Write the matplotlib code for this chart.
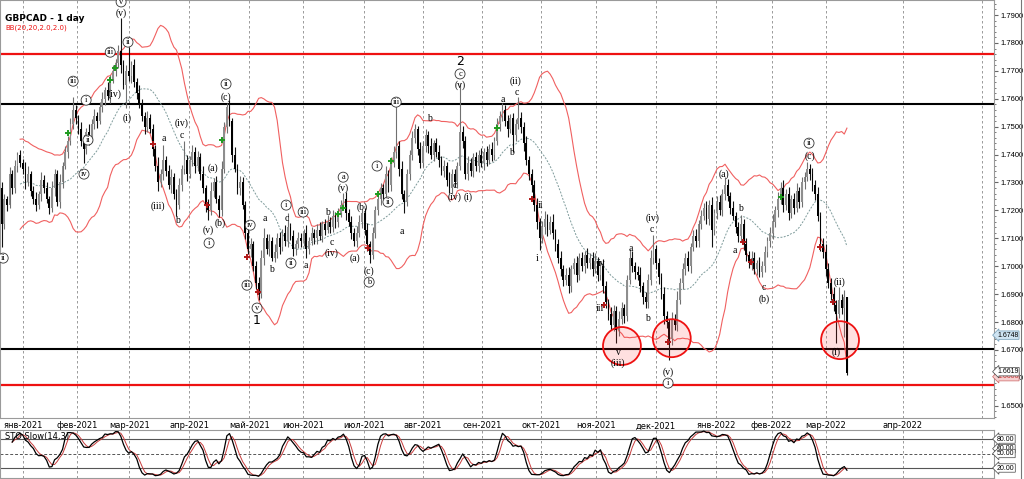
import numpy as np
import pandas as pd
import matplotlib
matplotlib.use("Agg")
import matplotlib.pyplot as plt
from matplotlib.patches import Ellipse

# GBPCAD daily, bar 0 = 4 Jan 2021, bars before it are late Dec 2020
first_bar = -8
first_open = 1.728
closes = [
    1.715, 1.724, 1.722, 1.733, 1.728, 1.736, 1.740, 1.737,
    1.735, 1.730, 1.733, 1.727, 1.724, 1.722, 1.726, 1.731, 1.728, 1.724,
    1.721, 1.728, 1.733, 1.723, 1.730, 1.736, 1.741, 1.745, 1.751, 1.756,
    1.753, 1.749, 1.745, 1.742, 1.748, 1.746, 1.751, 1.754, 1.752, 1.757,
    1.760, 1.763, 1.761, 1.767, 1.770, 1.773, 1.777, 1.772, 1.765, 1.770,
    1.768, 1.772, 1.766, 1.762, 1.758, 1.754, 1.750, 1.753, 1.749, 1.742,
    1.736, 1.730, 1.733, 1.738, 1.734, 1.729, 1.732, 1.726, 1.722, 1.729,
    1.735, 1.738, 1.733,
    1.738, 1.741, 1.736, 1.739, 1.733, 1.728, 1.722, 1.720, 1.727, 1.730,
    1.724, 1.720, 1.735, 1.750, 1.757, 1.752, 1.740, 1.735, 1.728, 1.730, 1.722,
    1.712, 1.706, 1.708, 1.700, 1.694, 1.690, 1.703, 1.710, 1.706, 1.709,
    1.703, 1.705, 1.710, 1.707, 1.712, 1.709, 1.714, 1.711, 1.706, 1.708, 1.710,
    1.709, 1.712, 1.706, 1.709, 1.712, 1.710, 1.713, 1.711, 1.715, 1.713,
    1.716, 1.714, 1.718, 1.716, 1.719, 1.722, 1.724, 1.719, 1.716, 1.712,
    1.709, 1.712,
    1.716, 1.719, 1.713, 1.708, 1.704, 1.712, 1.720, 1.724, 1.728, 1.726,
    1.733, 1.729, 1.737, 1.741, 1.743, 1.735, 1.726, 1.723, 1.733, 1.740,
    1.746, 1.749,
    1.742, 1.737, 1.743, 1.747, 1.743, 1.740, 1.744, 1.741, 1.738, 1.734,
    1.736, 1.731, 1.728, 1.733, 1.730, 1.736, 1.748, 1.745, 1.733, 1.737,
    1.734, 1.739,
    1.736, 1.740, 1.737, 1.741, 1.738, 1.742, 1.740, 1.745, 1.751, 1.754,
    1.756, 1.752, 1.749, 1.753, 1.747, 1.751, 1.753, 1.750, 1.744, 1.738,
    1.733, 1.729,
    1.722, 1.716, 1.710, 1.714, 1.717, 1.713, 1.716, 1.712, 1.708, 1.703,
    1.699, 1.695, 1.697, 1.693, 1.699, 1.701, 1.697, 1.703, 1.700, 1.704, 1.701,
    1.703, 1.699, 1.702, 1.697, 1.700, 1.693, 1.687, 1.683, 1.679, 1.684,
    1.677, 1.681, 1.685, 1.682, 1.695, 1.703, 1.700, 1.698, 1.697, 1.693,
    1.689, 1.687,
    1.695, 1.703, 1.706, 1.701, 1.696, 1.690, 1.682, 1.680, 1.674, 1.681,
    1.679, 1.688, 1.694, 1.699, 1.703, 1.700, 1.707, 1.711, 1.709, 1.715,
    1.718, 1.721,
    1.717, 1.722, 1.713, 1.719, 1.723, 1.720, 1.726, 1.729, 1.725, 1.721,
    1.718, 1.714, 1.711, 1.715, 1.708, 1.704, 1.701, 1.703, 1.699, 1.701, 1.698,
    1.700, 1.705, 1.709, 1.712, 1.716, 1.720, 1.724, 1.728, 1.722, 1.726,
    1.719, 1.724, 1.721, 1.727, 1.723, 1.730, 1.732, 1.735, 1.733, 1.729,
    1.726, 1.718, 1.708, 1.705, 1.699, 1.694, 1.690, 1.686, 1.683, 1.688,
    1.685, 1.689, 1.6619,
]
# wicks in pips above / below the candle body
wick_up = [
    20, 18, 12, 25, 15, 22, 10, 18,
    14, 22, 30, 12, 18, 25, 10, 28, 16, 20, 12, 26, 18, 14, 30, 12, 20, 15, 22, 46,
    18, 12, 25, 20, 14, 28, 16, 22, 12, 18, 25, 14, 30, 16, 20, 12, 24, 120, 18, 22,
    85, 16, 22, 14, 28, 18, 12, 25, 16, 20, 14, 30, 18, 54, 16, 22, 28, 14, 18, 25, 12, 70, 20,
    16, 25, 18, 22, 14, 28, 12, 20, 30, 16, 22, 14, 26, 18, 15, 25, 12, 28, 16, 22, 18,
    14, 25, 20, 12, 18, 22, 28, 37, 16, 24, 14, 30, 18, 22, 12, 26, 50, 16, 20, 14, 24,
    18, 12, 26, 16, 22, 14, 20, 28, 12, 18, 24, 16, 22, 14, 20, 18, 22, 26, 14, 20, 16, 24,
    22, 14, 18, 26, 12, 20, 16, 24, 18, 14, 28, 16, 20, 22, 158, 18, 26, 14, 20, 16, 24, 18,
    14, 26, 18, 22, 16, 28, 12, 20, 24, 16, 22, 14, 26, 18, 20, 12, 176, 22, 16, 24, 18, 14,
    20, 16, 24, 14, 22, 18, 26, 12, 20, 16, 25, 18, 22, 14, 20, 16, 76, 22, 18, 26, 14, 20,
    18, 24, 14, 22, 28, 16, 20, 26, 14, 18, 24, 16, 22, 28, 14, 20, 26, 18, 22, 16, 24,
    16, 22, 28, 14, 20, 26, 18, 12, 24, 20, 16, 28, 22, 14, 18, 30, 24, 16, 20, 26, 14, 18,
    22, 28, 51, 16, 20, 14, 24, 18, 12, 26, 20, 30, 16, 22, 18, 26, 14, 20, 24, 16, 22, 18,
    24, 16, 28, 14, 20, 26, 18, 29, 22, 16, 24, 14, 20, 33, 18, 22, 16, 24, 20, 14, 22,
    18, 24, 16, 22, 28, 14, 26, 20, 30, 18, 24, 16, 22, 28, 14, 20, 18, 23, 16, 22,
    18, 24, 16, 22, 28, 20, 16, 24, 18, 45, 20, 25, 0,
]
wick_dn = [
    80, 15, 22, 12, 20, 16, 24, 14,
    18, 24, 12, 20, 16, 22, 14, 26, 18, 12, 22, 16, 28, 14, 20, 18, 12, 24, 16, 20,
    22, 16, 20, 50, 18, 24, 14, 20, 26, 12, 18, 22, 16, 24, 14, 20, 18, 26, 14, 83,
    18, 24, 16, 22, 14, 20, 26, 18, 12, 24, 20, 30, 16, 22, 18, 14, 26, 20, 40, 16, 22, 18, 24,
    14, 20, 26, 18, 22, 16, 24, 35, 18, 22, 14, 24, 20, 16, 22, 18, 26, 14, 20, 24, 16,
    22, 18, 26, 16, 20, 21, 14, 24, 18, 22, 10, 16, 20, 26, 14, 18, 22, 16, 24, 20, 14,
    20, 16, 31, 18, 14, 22, 20, 16, 24, 18, 12, 20, 16, 22, 18, 14, 20, 24, 16, 22, 18, 20,
    16, 22, 18, 24, 29, 14, 20, 16, 22, 18, 14, 24, 20, 16, 22, 26, 18, 40, 16, 22, 18, 20,
    22, 18, 14, 20, 24, 16, 22, 18, 26, 14, 20, 24, 18, 22, 16, 20, 14, 26, 18, 22, 16, 20,
    18, 22, 16, 24, 20, 14, 22, 18, 16, 24, 20, 18, 26, 14, 61, 20, 18, 22, 26, 16, 20, 24,
    22, 26, 42, 18, 24, 20, 16, 22, 26, 18, 24, 20, 16, 25, 22, 18, 26, 20, 16, 24, 18,
    20, 24, 16, 22, 18, 26, 20, 24, 18, 22, 45, 20, 16, 24, 18, 14, 20, 26, 18, 22, 24, 20,
    18, 16, 22, 20, 24, 18, 26, 20, 77, 22, 18, 24, 16, 20, 22, 18, 24, 16, 20, 22, 18, 16,
    20, 24, 62, 18, 22, 16, 20, 24, 18, 22, 16, 20, 24, 18, 22, 20, 16, 24, 18, 22, 20,
    19, 22, 16, 20, 24, 18, 22, 16, 24, 20, 26, 18, 22, 16, 20, 18, 24, 16, 22, 20,
    22, 18, 24, 20, 26, 18, 22, 20, 105, 16, 22, 104, 9,
]

month_labels = ["янв-2021", "фев-2021", "мар-2021", "апр-2021", "май-2021",
                "июн-2021", "июл-2021", "авг-2021", "сен-2021", "окт-2021",
                "ноя-2021", "дек-2021", "янв-2022", "фев-2022", "мар-2022",
                "апр-2022", ""]
month_pos = [0, 20.4, 40.2, 62.9, 85.5, 105.7, 128.9, 150.9, 173.2, 195.5,
             216.3, 238.9, 261.6, 282.6, 303.1, 332.1, 362.1]

red_levels = [1.7760, 1.6575]
black_levels = [1.7580, 1.6705]

# elliott wave marks: (bar, price, text)
waves_circled = [
    (37.1, 1.7947, "v"), (33.0, 1.7767, "iii"), (39.7, 1.7803, "ii"),
    (19.0, 1.7663, "iii"), (23.9, 1.7595, "i"), (24.6, 1.7452, "ii"),
    (23.1, 1.7330, "iv"), (70.3, 1.7083, "i"), (76.7, 1.7653, "ii"),
    (-7.4, 1.7029, "ii"), (85.8, 1.7147, "iv"), (84.6, 1.6932, "iii"),
    (88.4, 1.6850, "v"), (99.4, 1.7219, "i"), (101.2, 1.7011, "ii"),
    (105.8, 1.7194, "iii"), (120.9, 1.7319, "a"), (130.7, 1.6943, "b"),
    (133.7, 1.7359, "i"), (137.8, 1.7230, "ii"), (140.9, 1.7588, "iii"),
    (165.0, 1.7689, "c"), (243.5, 1.6581, "i"), (296.7, 1.7441, "ii"),
]
waves_plain = [
    (37.1, 1.7907, "(v)"), (34.8, 1.7617, "(iv)"), (39.4, 1.7531, "(i)"),
    (51.1, 1.7215, "(iii)"), (53.3, 1.7456, "a"), (58.2, 1.7162, "b"),
    (60.1, 1.7470, "c"), (60.1, 1.7513, "(iv)"), (71.8, 1.7352, "(a)"),
    (69.9, 1.7129, "(v)"), (74.5, 1.7155, "(b)"), (76.7, 1.7606, "(c)"),
    (91.4, 1.7172, "a"), (93.7, 1.6989, "b"), (99.7, 1.7172, "c"),
    (106.9, 1.7003, "a"), (114.8, 1.7194, "b"), (116.7, 1.7086, "c"),
    (116.7, 1.7047, "(iv)"), (120.9, 1.7280, "(v)"), (125.4, 1.7029, "(a)"),
    (128.0, 1.7212, "(b)"), (130.7, 1.6982, "(c)"), (143.1, 1.7126, "a"),
    (153.3, 1.7531, "b"), (163.1, 1.7291, "c"), (163.1, 1.7248, "(iv)"),
    (168.0, 1.7248, "(i)"), (165.0, 1.7649, "(v)"), (181.2, 1.7599, "a"),
    (186.1, 1.7663, "(ii)"), (186.5, 1.7624, "c"), (184.3, 1.7409, "b"),
    (195.2, 1.7219, "ii"), (194.1, 1.7029, "i"), (218.6, 1.7011, "iv"),
    (217.9, 1.6850, "iii"), (224.6, 1.6692, "v"), (224.6, 1.6653, "(iii)"),
    (229.5, 1.7065, "a"), (235.6, 1.6814, "b"), (237.5, 1.7133, "c"),
    (237.8, 1.7172, "(iv)"), (243.5, 1.6620, "(v)"), (264.6, 1.7330, "(a)"),
    (271.0, 1.7208, "b"), (268.8, 1.7058, "a"), (279.7, 1.6925, "c"),
    (279.7, 1.6882, "(b)"), (297.1, 1.7395, "(c)"), (308.1, 1.6943, "(ii)"),
    (306.9, 1.6692, "(i)"),
]
waves_big = [(88.4, 1.6807, "1"), (165.0, 1.7735, "2")]

arrows_up = [(17.1, 1.7477), (33.0, 1.7667), (34.8, 1.7710), (75.2, 1.7452),
             (119.0, 1.7187), (120.9, 1.7208), (134.1, 1.7258), (139.0, 1.7377),
             (179.0, 1.7495), (286.1, 1.7248)]
arrows_dn = [(49.2, 1.7438), (69.5, 1.7219), (84.6, 1.7033), (88.8, 1.6907),
             (130.3, 1.7065), (192.2, 1.7240), (219.4, 1.6861), (243.5, 1.6728),
             (271.8, 1.7086), (274.8, 1.7015), (300.9, 1.7068), (305.8, 1.6871)]
circles = [(226.1, 1.6714), (244.9, 1.6742), (308.4, 1.6735)]

# ---- build candles and indicators
x = np.arange(first_bar, first_bar + len(closes))
c = np.array(closes)
o = np.r_[first_open, c[:-1]]
hi = np.maximum(o, c) + np.array(wick_up) * 1e-4
lo = np.minimum(o, c) - np.array(wick_dn) * 1e-4
bull = c >= o

s = pd.Series(c)
mid = s.rolling(20, min_periods=8).mean()
sd = s.rolling(20, min_periods=8).std(ddof=0)
bb_up = mid + 2 * sd
bb_dn = mid - 2 * sd

hh = pd.Series(hi).rolling(14, min_periods=5).max()
ll = pd.Series(lo).rolling(14, min_periods=5).min()
fast_k = 100 * (s - ll) / (hh - ll)
sto_k = fast_k.rolling(3, min_periods=1).mean()
sto_d = sto_k.rolling(3, min_periods=1).mean()

plt.rcParams["font.family"] = ["DejaVu Sans"]
W, H = 1024, 479
fig = plt.figure(figsize=(W / 100, H / 100), dpi=100)
ax = fig.add_axes([0, 61 / H, 994 / W, 418 / H])
ax2 = fig.add_axes([0, 1 / H, 994 / W, 48 / H])

xlim = (-8.6, 366.5)
grid_kw = dict(color="#8a8a8a", lw=0.6, ls=(0, (3, 3)), zorder=0)
for a in (ax, ax2):
    a.set_xlim(*xlim)
    for p in month_pos:
        a.axvline(p, **grid_kw)
    for sp in a.spines.values():
        sp.set_color("#9a9a9a")
        sp.set_linewidth(0.8)

# main panel
ax.set_ylim(1.6456, 1.7954)
for lv in red_levels:
    ax.axhline(lv, color="#ee1111", lw=1.6, zorder=2)
for lv in black_levels:
    ax.axhline(lv, color="black", lw=1.5, zorder=2)

ax.plot(x, bb_up, color="#f06060", lw=0.8, zorder=3)
ax.plot(x, bb_dn, color="#f06060", lw=0.8, zorder=3)
ax.plot(x, mid, color="#7d9a9a", lw=0.7, ls=(0, (2, 1.5)), zorder=3)

ax.vlines(x[bull], lo[bull], hi[bull], color="#707070", lw=0.8, zorder=4)
ax.vlines(x[~bull], lo[~bull], hi[~bull], color="#111111", lw=0.8, zorder=4)
ax.bar(x[bull], (c - o)[bull], bottom=o[bull], width=0.7, color="#8e8e8e",
       zorder=5)
ax.bar(x[~bull], (o - c)[~bull], bottom=c[~bull], width=0.7, color="black",
       zorder=5)

for bx, by in circles:
    ax.add_patch(Ellipse((bx, by), 14.3, 0.0136, fc=(1, 0.2, 0.2, 0.15),
                         ec="#ee1111", lw=1.3, zorder=6))

ua = np.array(arrows_up)
da = np.array(arrows_dn)
ax.plot(ua[:, 0], ua[:, 1], ls="none", marker="+", ms=5, mew=1.4,
        color="#1f9a1f", zorder=7)
ax.plot(da[:, 0], da[:, 1], ls="none", marker="+", ms=5, mew=1.4,
        color="#b01818", zorder=7)

serif = "Liberation Serif"
for bx, by, t in waves_plain:
    ax.text(bx, by, t, fontsize=7, family=serif, ha="center", va="center",
            zorder=8)
for bx, by, t in waves_circled:
    ax.text(bx, by, t, fontsize=6, family=serif, ha="center", va="center",
            zorder=8, bbox=dict(boxstyle="circle,pad=0.12", fc="white",
                                ec="#333333", lw=0.6))
for bx, by, t in waves_big:
    ax.text(bx, by, t, fontsize=9, ha="center", va="center", zorder=8)

ax.text(0.005, 0.955, "GBPCAD - 1 day", transform=ax.transAxes, fontsize=6.5,
        fontweight="bold", va="center", ha="left")
ax.text(0.005, 0.934, "BB(20,20,2.0,2.0)", transform=ax.transAxes,
        fontsize=5, color="#ee1111", va="center", ha="left")

ax.yaxis.tick_right()
ax.set_yticks(np.arange(1.65, 1.7901, 0.01))
ax.set_yticks(np.arange(1.646, 1.795, 0.002), minor=True)
ax.yaxis.set_major_formatter(plt.FormatStrFormatter("%.4f"))
ax.tick_params(axis="y", which="major", labelsize=5.5, length=3, pad=1.5,
               color="#666666")
for lab in ax.get_yticklabels():
    lab.set_family("Liberation Sans")
ax.tick_params(axis="y", which="minor", length=1.5, color="#666666")
ax.set_xticks(month_pos)
ax.set_xticklabels(month_labels)
ax.tick_params(axis="x", labelsize=6, length=0, pad=2.5)

tag = dict(xycoords=("axes fraction", "data"), fontsize=5, va="center",
           ha="left", annotation_clip=False, family="Liberation Sans")
ax.annotate("1.6606", xy=(1.003, 1.6604), color="#cc3333", zorder=9,
            bbox=dict(boxstyle="larrow,pad=0.1", fc="#f6d0d0", ec="#cc6666",
                      lw=0.5), **tag)
ax.annotate("1.6619", xy=(1.003, 1.6622), zorder=10,
            bbox=dict(boxstyle="larrow,pad=0.1", fc="white", ec="#444444",
                      lw=0.5), **tag)
ax.annotate("1.6748", xy=(1.003, 1.6753), zorder=10,
            bbox=dict(boxstyle="larrow,pad=0.1", fc="#cfe4f2", ec="#6f9ab5",
                      lw=0.5), **tag)

# stochastic panel
ax2.set_ylim(-0.7, 98.7)
ax2.axhline(80, color="#555555", lw=0.8, zorder=1)
ax2.axhline(20, color="#555555", lw=0.8, zorder=1)
ax2.axhline(50, color="#555555", lw=0.7, ls=(0, (3, 2)), zorder=1)
ax2.plot(x, sto_d, color="#c83c3c", lw=0.7, zorder=3)
ax2.plot(x, sto_k, color="black", lw=0.9, zorder=4)
ax2.set_xticks([])
ax2.set_yticks([])
ax2.text(0.005, 0.86, "STO Slow(14,3)", transform=ax2.transAxes, fontsize=6,
         va="center", ha="left", zorder=5)
for val, t in [(60, "60.00"), (80, "80.00"), (50, "50.00"), (20, "20.00")]:
    ax2.annotate(t, xy=(1.003, val), bbox=dict(boxstyle="larrow,pad=0.1",
                 fc="white", ec="#444444", lw=0.5), **tag)

fig.add_artist(plt.Line2D([1021 / W, 1021 / W], [0, 1], color="#777777",
                          lw=0.8))
fig.savefig("out.png", dpi=100)
